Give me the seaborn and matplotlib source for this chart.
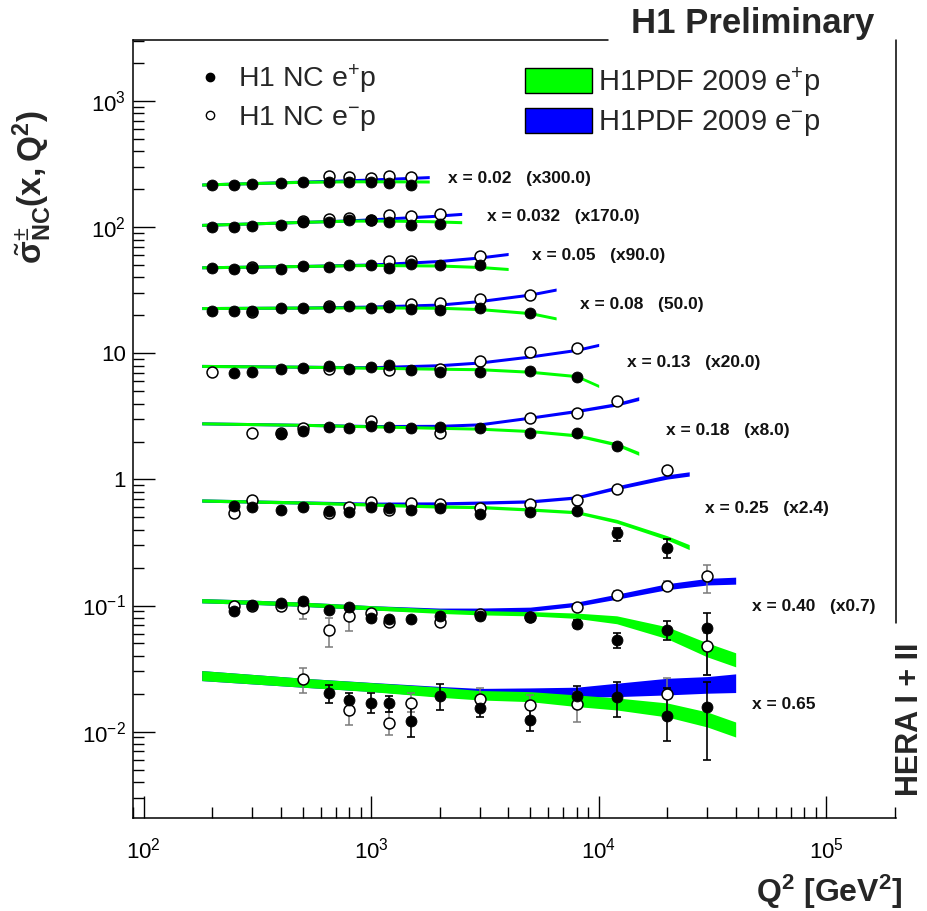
import numpy as np
import pandas as pd
import matplotlib
matplotlib.use("Agg")
import matplotlib.pyplot as plt
from matplotlib.lines import Line2D
from matplotlib.patches import Patch
from matplotlib.ticker import LogLocator, FuncFormatter, NullFormatter
import seaborn as sns

# ------------------------------------------------------------------ data
# x bins and the scale factors applied to each (values below are as plotted)
x_bins = ["0.02", "0.032", "0.05", "0.08", "0.13", "0.18", "0.25", "0.40", "0.65"]
scale_tags = ["(x300.0)", "(x170.0)", "(x90.0)", "(50.0)", "(x20.0)", "(x8.0)",
              "(x2.4)", "(x0.7)", ""]

# H1 NC e+p data (filled)
ep_q2 = [
    [200, 250, 300, 400, 500, 650, 800, 1000, 1200, 1500],
    [200, 250, 300, 400, 500, 650, 800, 1000, 1200, 1500, 2000],
    [200, 250, 300, 400, 500, 650, 800, 1000, 1200, 1500, 2000, 3000],
    [200, 250, 300, 400, 500, 650, 800, 1000, 1200, 1500, 2000, 3000, 5000],
    [250, 300, 400, 500, 650, 800, 1000, 1200, 1500, 2000, 3000, 5000, 8000],
    [400, 500, 650, 800, 1000, 1200, 1500, 2000, 3000, 5000, 8000, 12000],
    [250, 300, 400, 500, 650, 800, 1000, 1200, 1500, 2000, 3000, 5000, 8000, 12000, 20000],
    [250, 300, 400, 500, 650, 800, 1000, 1200, 1500, 2000, 3000, 5000, 8000, 12000, 20000, 30000],
    [650, 800, 1000, 1200, 1500, 2000, 3000, 5000, 8000, 12000, 20000, 30000],
]
ep_sig = [
    [214.6, 218.5, 221.3, 225.4, 229.6, 230.8, 230.8, 228.3, 225.4, 218.5],
    [101.3, 100.2, 103.2, 104.5, 109.8, 109.8, 114.5, 114.5, 109.8, 104.5, 105.8],
    [47.3, 46.7, 47.3, 46.7, 48.9, 48.7, 50.2, 50.2, 47.3, 50.9, 50.2, 50.2],
    [21.53, 21.53, 21.77, 22.75, 22.75, 23.17, 23.86, 22.75, 23.17, 22.46, 22.05, 22.75, 20.87],
    [7.05, 7.18, 7.49, 7.59, 7.95, 7.49, 7.73, 8.06, 7.45, 7.15, 7.15, 7.30, 6.55],
    [2.279, 2.421, 2.624, 2.576, 2.653, 2.624, 2.576, 2.61, 2.576, 2.351, 2.351, 1.83],
    [0.6135, 0.6067, 0.5775, 0.6067, 0.567, 0.5496, 0.6067, 0.5957, 0.5775, 0.5957,
     0.5367, 0.552, 0.56, 0.379, 0.2865],
    [0.0904, 0.1015, 0.104, 0.1078, 0.0926, 0.0968, 0.0791, 0.0781, 0.0776, 0.0819,
     0.0819, 0.081, 0.0717, 0.0535, 0.0642, 0.0662],
    [0.02038, 0.01783, 0.01697, 0.01679, 0.01215, 0.0193, 0.01532, 0.01237, 0.01919,
     0.01894, 0.0133, 0.0156],
]
ep_dn = [
    [0, 0, 0, 0, 0, 0, 0, 0, 0, 0],
    [0, 0, 0, 0, 0, 0, 0, 0, 0, 0, 0],
    [0, 0, 0, 0, 0, 0, 0, 0, 0, 0, 0, 0],
    [0, 0, 0, 0, 0, 0, 0, 0, 0, 0, 0, 0, 0],
    [0, 0, 0, 0, 0, 0, 0, 0, 0, 0, 0, 0, 0],
    [0, 0, 0, 0, 0, 0, 0, 0, 0, 0, 0, 0.10],
    [0, 0, 0, 0, 0, 0, 0, 0, 0, 0, 0, 0, 0, 0.052, 0.047],
    [0, 0, 0.004, 0, 0, 0, 0, 0, 0, 0, 0, 0, 0.005, 0.0073, 0.0107, 0.038],
    [0.00341, 0.00206, 0.003, 0.0024, 0.00314, 0.00445, 0.00232, 0.00227, 0.00342,
     0.00581, 0.00483, 0.00966],
]
ep_up = [
    [0, 0, 0, 0, 0, 0, 0, 0, 0, 0],
    [0, 0, 0, 0, 0, 0, 0, 0, 0, 0, 0],
    [0, 0, 0, 0, 0, 0, 0, 0, 0, 0, 0, 0],
    [0, 0, 0, 0, 0, 0, 0, 0, 0, 0, 0, 0, 0],
    [0, 0, 0, 0, 0, 0, 0, 0, 0, 0, 0, 0, 0],
    [0, 0, 0, 0, 0, 0, 0, 0, 0, 0, 0, 0.10],
    [0, 0, 0, 0, 0, 0, 0, 0, 0, 0, 0, 0, 0, 0.033, 0.053],
    [0, 0, 0.004, 0, 0, 0, 0, 0, 0, 0, 0, 0, 0.005, 0.0073, 0.0115, 0.0215],
    [0.00309, 0.00233, 0.00319, 0.0024, 0.00412, 0.00447, 0.00251, 0.00295, 0.00398,
     0.00599, 0.00891, 0.00933],
]

# H1 NC e-p data (open)
em_q2 = [
    [650, 800, 1000, 1200, 1500],
    [500, 650, 800, 1000, 1200, 1500, 2000],
    [300, 1200, 1500, 3000],
    [300, 650, 1200, 1500, 2000, 3000, 5000],
    [200, 650, 1200, 2000, 3000, 5000, 8000],
    [300, 400, 500, 1000, 2000, 5000, 8000, 12000],
    [250, 300, 650, 800, 1000, 1200, 1500, 2000, 3000, 5000, 8000, 12000, 20000],
    [250, 300, 400, 500, 650, 800, 1000, 1200, 2000, 3000, 5000, 8000, 12000, 20000, 30000],
    [500, 800, 1200, 1500, 3000, 5000, 8000, 20000, 30000],
]
em_sig = [
    [253.0, 251.6, 247.0, 253.0, 250.0],
    [113.0, 116.7, 118.1, 114.5, 125.5, 122.5, 127.8],
    [48.2, 54.4, 54.4, 59.6],
    [21.14, 23.86, 23.86, 24.48, 25.06, 26.97, 29.17],
    [7.18, 7.49, 7.39, 7.49, 8.70, 10.17, 10.94],
    [2.351, 2.351, 2.576, 2.907, 2.351, 3.094, 3.38, 4.193],
    [0.5436, 0.6847, 0.5436, 0.6067, 0.6649, 0.5775, 0.649, 0.64, 0.596, 0.641, 0.681,
     0.836, 1.186],
    [0.0996, 0.099, 0.0996, 0.0955, 0.0634, 0.0819, 0.0867, 0.0747, 0.0734, 0.0856,
     0.0815, 0.0973, 0.1203, 0.1437, 0.1703],
    [0.02604, 0.01485, 0.01177, 0.01697, 0.01816, 0.01627, 0.01657, 0.0198, 0.0479],
]
em_dn = [
    [0, 0, 0, 0, 0],
    [0, 0, 0, 0, 0, 0, 0],
    [0, 0, 0, 0],
    [0, 0, 0, 0, 0, 0, 0],
    [0, 0, 0, 0, 0, 0, 0],
    [0, 0, 0, 0, 0, 0, 0, 0],
    [0, 0, 0, 0, 0, 0, 0, 0, 0, 0, 0, 0, 0.07],
    [0, 0, 0.009, 0.017, 0.0161, 0.0189, 0, 0, 0, 0, 0, 0, 0.01, 0.012, 0.0439],
    [0.00577, 0.00357, 0.00237, 0.00258, 0.00331, 0.00314, 0.00458, 0.00625, 0.0197],
]
em_up = [
    [0, 0, 0, 0, 0],
    [0, 0, 0, 0, 0, 0, 0],
    [0, 0, 0, 0],
    [0, 0, 0, 0, 0, 0, 0],
    [0, 0, 0, 0, 0, 0, 0],
    [0, 0, 0, 0, 0, 0, 0, 0],
    [0, 0, 0, 0, 0, 0, 0, 0, 0, 0, 0, 0, 0.07],
    [0, 0, 0.009, 0.01, 0.0166, 0.0162, 0, 0, 0, 0, 0, 0, 0.01, 0.012, 0.0407],
    [0.00596, 0.00409, 0.00262, 0.00319, 0.00405, 0.00327, 0.00419, 0.00688, 0.0129],
]

# H1PDF 2009 predictions: central values and relative uncertainty at nodes
curve_q2 = [
    [180, 300, 500, 800, 1200, 1800],
    [180, 300, 500, 800, 1200, 1800, 2500],
    [180, 500, 1000, 2000, 3000, 4000],
    [180, 500, 1000, 2000, 3000, 5000, 6500],
    [180, 500, 1000, 2000, 3000, 5000, 8000, 10000],
    [180, 500, 1000, 2000, 3000, 5000, 8000, 12000, 15000],
    [180, 500, 1000, 2000, 3000, 5000, 8000, 12000, 20000, 25000],
    [180, 300, 500, 1000, 2000, 3000, 5000, 8000, 12000, 20000, 30000, 40000],
    [180, 500, 1000, 2000, 3000, 5000, 8000, 12000, 20000, 30000, 40000],
]
curve_ep = [
    [218.5, 224.2, 229.6, 231.7, 231.7, 230.8],
    [104.5, 107.4, 110.4, 113.0, 113.0, 111.8, 109.8],
    [48.18, 49.35, 50.24, 49.78, 48.44, 46.7],
    [22.88, 23.09, 23.17, 23.0, 22.46, 20.87, 18.94],
    [7.954, 7.84, 7.697, 7.557, 7.488, 7.15, 6.6, 5.516],
    [2.787, 2.712, 2.638, 2.567, 2.529, 2.421, 2.238, 1.897, 1.609],
    [0.6808, 0.6564, 0.6328, 0.6101, 0.6045, 0.5775, 0.5496, 0.4661, 0.344, 0.2907],
    [0.1092, 0.1062, 0.1024, 0.0960, 0.0901, 0.0877, 0.0861, 0.0830, 0.0771, 0.0608,
     0.0445, 0.0371],
    [0.02782, 0.02443, 0.02254, 0.02053, 0.01943, 0.01894, 0.01757, 0.01657, 0.01485,
     0.01248, 0.01039],
]
curve_ep_unc = [
    [0.028, 0.028, 0.028, 0.028, 0.028, 0.028],
    [0.028, 0.028, 0.028, 0.028, 0.028, 0.028, 0.028],
    [0.028, 0.028, 0.028, 0.028, 0.028, 0.028],
    [0.028, 0.028, 0.028, 0.028, 0.028, 0.028, 0.028],
    [0.028, 0.028, 0.028, 0.028, 0.028, 0.028, 0.028, 0.028],
    [0.028, 0.028, 0.028, 0.028, 0.028, 0.028, 0.03, 0.032, 0.035],
    [0.03, 0.03, 0.03, 0.03, 0.03, 0.03, 0.03, 0.035, 0.04, 0.047],
    [0.04, 0.04, 0.04, 0.04, 0.04, 0.04, 0.04, 0.05, 0.075, 0.115, 0.137, 0.137],
    [0.096, 0.086, 0.086, 0.096, 0.09, 0.096, 0.112, 0.116, 0.137, 0.147, 0.147],
]
curve_em = [
    [218.5, 224.2, 230.4, 236.0, 242.6, 250.2],
    [104.5, 107.4, 110.4, 113.4, 117.7, 122.5, 127.8],
    [48.18, 49.35, 50.71, 54.06, 57.64, 61.44],
    [22.88, 23.09, 23.51, 24.39, 26.0, 29.29, 32.09],
    [7.954, 7.84, 7.768, 8.06, 8.467, 9.449, 10.66, 11.68],
    [2.787, 2.712, 2.653, 2.663, 2.736, 3.094, 3.491, 3.947, 4.38],
    [0.6808, 0.6564, 0.642, 0.645, 0.655, 0.67, 0.72, 0.8592, 1.047, 1.106],
    [0.1092, 0.1062, 0.1024, 0.0960, 0.0918, 0.0918, 0.0934, 0.1024, 0.1175, 0.1411,
     0.1546, 0.1575],
    [0.02782, 0.02443, 0.02262, 0.02083, 0.02008, 0.02027, 0.02046, 0.02141, 0.02275,
     0.02347, 0.02421],
]
curve_em_unc = [
    [0.028, 0.028, 0.028, 0.028, 0.028, 0.028],
    [0.028, 0.028, 0.028, 0.028, 0.028, 0.028, 0.028],
    [0.028, 0.028, 0.028, 0.028, 0.028, 0.028],
    [0.028, 0.028, 0.028, 0.028, 0.028, 0.028, 0.028],
    [0.028, 0.028, 0.028, 0.028, 0.028, 0.028, 0.028, 0.028],
    [0.028, 0.028, 0.028, 0.028, 0.028, 0.028, 0.03, 0.032, 0.035],
    [0.03, 0.03, 0.03, 0.03, 0.03, 0.03, 0.03, 0.035, 0.04, 0.04],
    [0.04, 0.04, 0.04, 0.04, 0.04, 0.04, 0.04, 0.04, 0.047, 0.056, 0.062, 0.066],
    [0.096, 0.086, 0.086, 0.096, 0.096, 0.096, 0.10, 0.13, 0.164, 0.164, 0.186],
]

# ------------------------------------------------------------------ style
sns.set_theme(style="ticks")
plt.rcParams["font.family"] = ["Liberation Sans", "DejaVu Sans"]
plt.rcParams["mathtext.fontset"] = "custom"
plt.rcParams["mathtext.rm"] = "Liberation Sans"
plt.rcParams["mathtext.it"] = "Liberation Sans:italic"
plt.rcParams["mathtext.bf"] = "Liberation Sans:bold"
plt.rcParams["mathtext.sf"] = "Liberation Sans"

GREEN = "#00ff00"
BLUE = "#0000ff"

fig = plt.figure(figsize=(9.28, 9.11), dpi=100)
ax = fig.add_axes([0.1433, 0.1021, 0.8222, 0.8540])
ax.set_xscale("log")
ax.set_yscale("log")

# bands
for i in range(len(x_bins)):
    q = np.array(curve_q2[i], float)
    cm = np.array(curve_em[i]); um = np.array(curve_em_unc[i])
    cp = np.array(curve_ep[i]); up = np.array(curve_ep_unc[i])
    ax.fill_between(q, cm / (1 + um), cm * (1 + um), color=BLUE, lw=0, zorder=1)
    ax.fill_between(q, cp / (1 + up), cp * (1 + up), color=GREEN, lw=0, zorder=2)

# data frames for the points
rows = []
for i, xb in enumerate(x_bins):
    for q, s, d, u in zip(ep_q2[i], ep_sig[i], ep_dn[i], ep_up[i]):
        rows.append(dict(xbin=xb, beam="e+p", Q2=q, sigma=s, dn=d, up=u))
    for q, s, d, u in zip(em_q2[i], em_sig[i], em_dn[i], em_up[i]):
        rows.append(dict(xbin=xb, beam="e-p", Q2=q, sigma=s, dn=d, up=u))
df = pd.DataFrame(rows)
df_ep = df[df.beam == "e+p"]
df_em = df[df.beam == "e-p"]

# error bars (only where visible)
e_em = df_em[(df_em.dn > 0) | (df_em.up > 0)]
ax.errorbar(e_em.Q2, e_em.sigma, yerr=[e_em.dn, e_em.up], fmt="none",
            ecolor="#7a7a7a", elinewidth=1.1, capsize=3, capthick=1.1, zorder=3)
e_ep = df_ep[(df_ep.dn > 0) | (df_ep.up > 0)]
ax.errorbar(e_ep.Q2, e_ep.sigma, yerr=[e_ep.dn, e_ep.up], fmt="none",
            ecolor="black", elinewidth=1.2, capsize=3, capthick=1.2, zorder=3)

sns.scatterplot(data=df_em, x="Q2", y="sigma", ax=ax, marker="o", s=62,
                color="white", edgecolor="black", linewidth=1.1, zorder=4, legend=False)
sns.scatterplot(data=df_ep, x="Q2", y="sigma", ax=ax, marker="o", s=62,
                color="black", edgecolor="black", linewidth=0.6, zorder=5, legend=False)

# bin labels
label_q2 = [2166, 3214, 5117, 8318, 13380, 19860, 29450, 47400, 47400]
label_y = [242.6, 120.9, 60.3, 24.6, 8.51, 2.452, 0.588, 0.0978, 0.01627]
for i, xb in enumerate(x_bins):
    txt = f"x = {xb}" + (f"   {scale_tags[i]}" if scale_tags[i] else "")
    ax.text(label_q2[i], label_y[i], txt, fontsize=12.5, fontweight="bold",
            ha="left", va="center", color="#111111")

# axes
ax.set_xlim(89.8, 2.026e5)
ax.set_ylim(2.065e-3, 3060)
ax.xaxis.set_major_locator(LogLocator(base=10, numticks=20))
ax.yaxis.set_major_locator(LogLocator(base=10, numticks=20))
ax.xaxis.set_minor_locator(LogLocator(base=10, subs=np.arange(2, 10), numticks=20))
ax.yaxis.set_minor_locator(LogLocator(base=10, subs=np.arange(2, 10), numticks=20))


def xfmt(v, pos):
    e = int(round(np.log10(v)))
    return r"$\mathregular{10^{%d}}$" % e


def yfmt(v, pos):
    e = int(round(np.log10(v)))
    if e == 0:
        return "1"
    if e == 1:
        return "10"
    return r"$\mathregular{10^{%d}}$" % e


ax.xaxis.set_major_formatter(FuncFormatter(xfmt))
ax.yaxis.set_major_formatter(FuncFormatter(yfmt))
ax.xaxis.set_minor_formatter(NullFormatter())
ax.yaxis.set_minor_formatter(NullFormatter())
ax.tick_params(which="both", direction="in", top=False, right=False, color="black",
               width=1.0, labelsize=16, labelcolor="black")
ax.tick_params(which="major", length=16.0)
ax.tick_params(which="minor", length=8.0)
ax.tick_params(axis="x", which="major", pad=14)
ax.tick_params(axis="y", which="major", pad=5)
ax.set_xlabel(None)
ax.set_ylabel(None)
ax.xaxis.label.set_visible(False)
ax.yaxis.label.set_visible(False)
ax.xaxis.offsetText.set_visible(False)
ax.yaxis.offsetText.set_visible(False)
ax.grid(False)

for side in ("top", "right"):
    ax.spines[side].set_visible(False)
for side in ("left", "bottom"):
    ax.spines[side].set_linewidth(1.1)
    ax.spines[side].set_color("black")
ax.plot([0, 0.6225], [1, 1], transform=ax.transAxes, color="black", lw=1.1,
        clip_on=False, zorder=6)
ax.plot([1, 1], [1, 0.2506], transform=ax.transAxes, color="black", lw=1.1,
        clip_on=False, zorder=6)

# legends
h_ep = Line2D([], [], ls="none", marker="o", ms=6.0, mfc="black", mec="black")
h_em = Line2D([], [], ls="none", marker="o", ms=6.0, mfc="white", mec="black", mew=1.0)
leg1 = ax.legend([h_ep, h_em], [r"H1 NC e$^{+}$p", r"H1 NC e$^{-}$p"],
                 loc="upper left", bbox_to_anchor=(0.082, 0.971), frameon=False,
                 fontsize=20.5, handlelength=1.0, handletextpad=0.5, labelspacing=0.27,
                 borderpad=0, borderaxespad=0)
ax.add_artist(leg1)
p_ep = Patch(facecolor=GREEN, edgecolor="black", lw=1.0)
p_em = Patch(facecolor=BLUE, edgecolor="black", lw=1.0)
ax.legend([p_ep, p_em], [r"H1PDF 2009 e$^{+}$p", r"H1PDF 2009 e$^{-}$p"],
          loc="upper left", bbox_to_anchor=(0.5138, 0.9679), frameon=False,
          fontsize=21, handlelength=2.3, handleheight=0.95, handletextpad=0.2,
          labelspacing=0.3, borderpad=0, borderaxespad=0)

# texts
fig.text(753 / 928, 1 - 23 / 911, "H1 Preliminary", ha="center", va="center",
         fontsize=25, fontweight="bold")
fig.text(910 / 928, 1 - 719 / 911, "HERA I + II", ha="center", va="center",
         rotation=90, fontsize=22, fontweight="bold")
fig.text(903 / 928, 1 - 902 / 911, r"Q$\mathbf{^{2}}$ [GeV$\mathbf{^{2}}$]",
         ha="right", va="baseline", fontsize=23, fontweight="bold")
fig.text(32 / 928, 1 - 187 / 911,
         r"$\tilde{\mathbf{\sigma}}^{\pm}_{\mathbf{NC}}\mathbf{(x,Q^{2})}$",
         ha="center", va="center", rotation=90, fontsize=24)

fig.savefig("out.png", dpi=100)
